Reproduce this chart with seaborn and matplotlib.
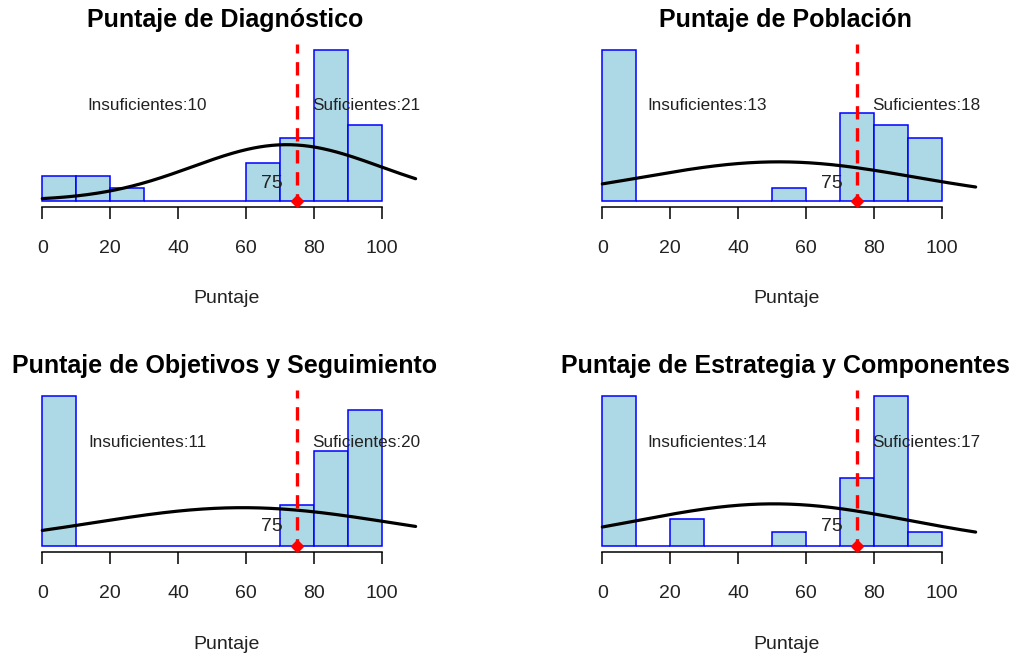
import matplotlib
matplotlib.use("Agg")
import matplotlib.pyplot as plt
import matplotlib.transforms as mtransforms
import numpy as np
import seaborn as sns

# bins of width 10 from 0 to 100
BIN_EDGES = [0, 10, 20, 30, 40, 50, 60, 70, 80, 90, 100]
BIN_MIDS = [5, 15, 25, 35, 45, 55, 65, 75, 85, 95]

TITLES = [
    "Puntaje de Diagnóstico",
    "Puntaje de Población",
    "Puntaje de Objetivos y Seguimiento",
    "Puntaje de Estrategia y Componentes",
]
COUNTS_DIAGNOSTICO = [2, 2, 1, 0, 0, 0, 3, 5, 12, 6]
COUNTS_POBLACION = [12, 0, 0, 0, 0, 1, 0, 7, 6, 5]
COUNTS_OBJETIVOS = [11, 0, 0, 0, 0, 0, 0, 3, 7, 10]
COUNTS_ESTRATEGIA = [11, 0, 2, 0, 0, 1, 0, 5, 11, 1]
INSUFICIENTES = [10, 13, 11, 14]
SUFICIENTES = [21, 18, 20, 17]
# mean / sd of the fitted normal curve
CURVE_MEAN = [72.0, 52.0, 59.0, 50.5]
CURVE_SD = [27.7, 40.0, 44.0, 40.0]
CURVE_RANGE = (0, 110)
THRESHOLD = 75
XTICKS = [0, 20, 40, 60, 80, 100]

sns.set_style("white")
plt.rcParams["font.family"] = ["Liberation Sans", "DejaVu Sans"]

fig = plt.figure(figsize=(10.21, 6.56), dpi=100)

left_cols = [0.0268, 0.5753]
bottom_rows = [0.6852, 0.1585]
width, height = 0.3949, 0.2470

all_counts = [COUNTS_DIAGNOSTICO, COUNTS_POBLACION, COUNTS_OBJETIVOS, COUNTS_ESTRATEGIA]
text_color = "#222222"

for i, counts in enumerate(all_counts):
    r, c = divmod(i, 2)
    ax = fig.add_axes([left_cols[c], bottom_rows[r], width, height])
    ymax = max(counts)

    sns.histplot(
        x=BIN_MIDS, weights=counts, bins=BIN_EDGES, ax=ax,
        color="#ADD8E6", edgecolor="#0000FF", linewidth=1.1, alpha=1.0,
    )

    n = sum(counts)
    xs = np.linspace(CURVE_RANGE[0], CURVE_RANGE[1], 300)
    mu, sd = CURVE_MEAN[i], CURVE_SD[i]
    ys = n * 10 * np.exp(-0.5 * ((xs - mu) / sd) ** 2) / (sd * np.sqrt(2 * np.pi))
    sns.lineplot(x=xs, y=ys, ax=ax, color="black", linewidth=2.3)

    ax.axvline(THRESHOLD, color="#FF0000", linewidth=2.4, linestyle=(0, (4, 2.6)))
    ax.plot([THRESHOLD], [0], marker="D", color="#FF0000", markersize=6,
            clip_on=False, zorder=5)
    ax.text(THRESHOLD - 7.5, 1.4, str(THRESHOLD), ha="center", va="center",
            fontsize=14, color=text_color)
    ax.text(31, 7.6, f"Insuficientes:{INSUFICIENTES[i]}", ha="center", va="center",
            fontsize=12.3, color=text_color)
    ax.text(95.5, 7.6, f"Suficientes:{SUFICIENTES[i]}", ha="center", va="center",
            fontsize=12.3, color=text_color)

    ax.set_xlim(-4.4, 114.4)
    ax.set_ylim(-0.04 * ymax, 1.04 * ymax)
    ax.set_yticks([])
    ax.set_ylabel("")
    ax.set_xlabel("")
    ax.set_xticks(XTICKS)
    ax.set_xticklabels([str(t) for t in XTICKS])
    for side in ["left", "top", "right"]:
        ax.spines[side].set_visible(False)
    ax.spines["bottom"].set_bounds(0, 100)
    ax.spines["bottom"].set_color("black")
    ax.spines["bottom"].set_linewidth(1.1)
    ax.tick_params(axis="x", bottom=True, length=8.6, width=1.1, direction="out",
                   pad=15.5, labelsize=14, colors="black", labelcolor=text_color)

    title_tr = mtransforms.offset_copy(ax.transAxes, fig=fig, y=24, units="dots")
    ax.text(0.49, 1.0, TITLES[i], transform=title_tr, ha="center", va="center",
            fontsize=18, fontweight="bold", color="black")
    label_tr = mtransforms.offset_copy(ax.transAxes, fig=fig, y=-92, units="dots")
    ax.text(0.495, 0.0, "Puntaje", transform=label_tr, ha="center", va="center",
            fontsize=14, color=text_color)

fig.savefig("out.png", dpi=100)
plt.close(fig)
